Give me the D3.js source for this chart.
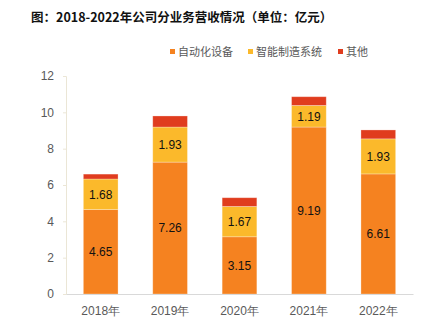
<!DOCTYPE html>
<html>
<head>
<meta charset="utf-8">
<script src="https://cdn.jsdelivr.net/npm/d3@7"></script>
<style>
  body { margin: 0; background: #fff; }
  svg { font-family: "Noto Sans CJK SC", "Liberation Sans", sans-serif; }
</style>
</head>
<body>
<svg width="435" height="325"></svg>
<script>
const years = ['2018年', '2019年', '2020年', '2021年', '2022年']
const automation = [4.65, 7.26, 3.15, 9.19, 6.61]
const smartMfg = [1.68, 1.93, 1.67, 1.19, 1.93]
const other = [0.27, 0.61, 0.48, 0.48, 0.49]
const seriesNames = ['自动化设备', '智能制造系统', '其他']
const yTicks = [0, 2, 4, 6, 8, 10, 12]

const colors = ['#f58220', '#fbb92b', '#e03c1e']

const svg = d3.select('svg')
const plotLeft = 66, plotRight = 413, plotTop = 76, plotBottom = 294

const rows = years.map((y, i) => ({
  year: y,
  [seriesNames[0]]: automation[i],
  [seriesNames[1]]: smartMfg[i],
  [seriesNames[2]]: other[i]
}))
const stacked = d3.stack().keys(seriesNames)(rows)

let xScale = d3.scaleBand()
               .domain(years)
               .range([plotLeft, plotRight])
               .paddingInner(0.5)
               .paddingOuter(0.25)

let yScale = d3.scaleLinear()
               .domain([0, 12])
               .range([plotBottom, plotTop])

// title
svg.append('text')
    .attr('x', 31)
    .attr('y', 22)
    .style('font-size', '12.5px')
    .style('font-weight', 'bold')
    .attr('fill', '#111')
    .text('图：2018-2022年公司分业务营收情况（单位：亿元）')

// legend
const legendX = [170, 248, 338]
const legend = svg.append('g')
seriesNames.forEach((name, i) => {
  legend.append('rect')
      .attr('x', legendX[i])
      .attr('y', 49)
      .attr('width', 5)
      .attr('height', 5)
      .attr('fill', colors[i])
  legend.append('text')
      .attr('x', legendX[i] + 8)
      .attr('y', 55.5)
      .style('font-size', '11px')
      .attr('fill', '#595959')
      .text(name)
})

// y axis
let yAxis = d3.axisLeft(yScale)
              .tickValues(yTicks)
              .tickSize(3)
              .tickPadding(9)
              .tickSizeOuter(3)

const yG = svg.append('g')
    .attr('transform', `translate(${plotLeft}, 0)`)
    .call(yAxis)
yG.select('.domain').attr('stroke', '#ebe6d6')
yG.selectAll('.tick line').attr('stroke', '#ebe6d6')
yG.selectAll('.tick text')
    .attr('fill', '#595959')
    .style('font-size', '12px')
    .style('font-family', '"Liberation Sans", sans-serif')

// bars
svg.append('g')
  .selectAll('g')
  .data(stacked)
  .enter()
  .append('g')
    .attr('fill', (d, i) => colors[i])
  .selectAll('rect')
  .data(d => d)
  .enter()
  .append('rect')
    .attr('x', d => xScale(d.data.year))
    .attr('y', d => yScale(d[1]))
    .attr('width', xScale.bandwidth())
    .attr('height', d => yScale(d[0]) - yScale(d[1]))
    .attr('stroke', 'rgba(255,255,255,0.35)')
    .attr('stroke-width', 0.8)

// value labels on the first two series
stacked.slice(0, 2).forEach(layer => {
  svg.append('g')
    .selectAll('text')
    .data(layer)
    .enter()
    .append('text')
      .attr('x', d => xScale(d.data.year) + xScale.bandwidth() / 2)
      .attr('y', d => (yScale(d[0]) + yScale(d[1])) / 2)
      .attr('dy', '0.36em')
      .attr('text-anchor', 'middle')
      .style('font-size', '12px')
      .style('font-family', '"Liberation Sans", sans-serif')
      .attr('fill', '#111')
      .text(d => (d[1] - d[0]).toFixed(2))
})

// x axis
let xAxis = d3.axisBottom(xScale)
              .tickSize(0)
              .tickPadding(12)
              .tickSizeOuter(0)

const xG = svg.append('g')
    .attr('transform', `translate(0, ${plotBottom})`)
    .call(xAxis)
xG.select('.domain').attr('stroke', '#d9d9d9')
xG.selectAll('.tick text')
    .attr('fill', '#595959')
    .style('font-size', '12px')
</script>
</body>
</html>
